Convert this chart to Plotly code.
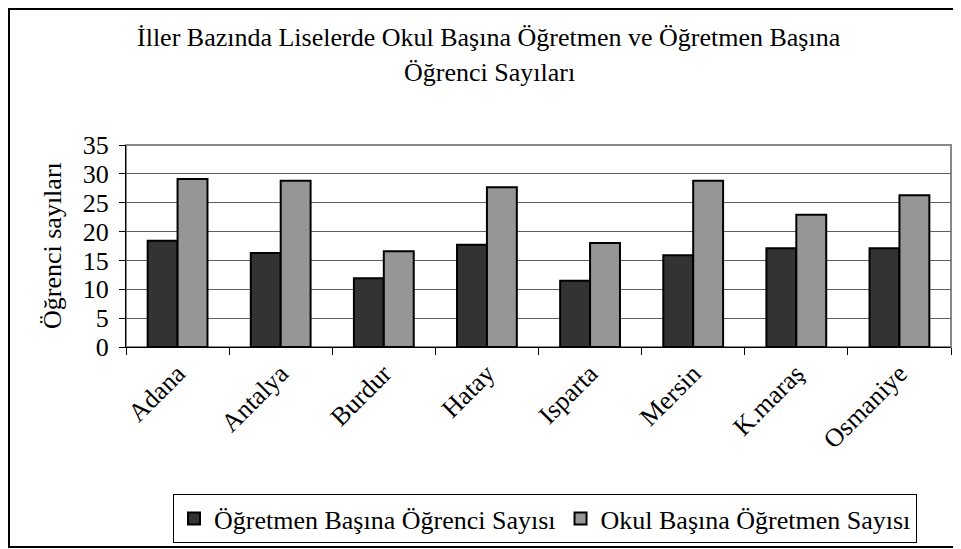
import plotly.graph_objects as go

iller = ["Adana", "Antalya", "Burdur", "Hatay", "Isparta", "Mersin", "K.maraş", "Osmaniye"]
ogretmen_basina_ogrenci = [18.4, 16.3, 11.9, 17.7, 11.5, 15.9, 17.1, 17.1]
okul_basina_ogretmen = [29.1, 28.8, 16.6, 27.7, 18.0, 28.8, 22.9, 26.3]
y_ticks = [0, 5, 10, 15, 20, 25, 30, 35]
baslik_1 = "İller Bazında Liselerde Okul Başına Öğretmen ve Öğretmen Başına"
baslik_2 = "Öğrenci Sayıları"
y_baslik = "Öğrenci sayıları"

# the page body has an 8px margin, so the figure starts at (8, 8) in the window
OFF = 8
WIN_W, WIN_H = 961, 549
W, H = WIN_W - OFF, WIN_H - OFF
# plot area in window pixels
PL, PR, PT, PB = 126, 951, 145, 347
L, R, T, B = PL - OFF, PR - OFF, PT - OFF, PB - OFF


def px(x):
    """window x pixel -> paper coordinate"""
    return (x - PL) / (PR - PL)


def py(y):
    """window y pixel -> paper coordinate"""
    return (PB - y) / (PB - PT)


FONT = "Liberation Serif, Times New Roman, serif"
FS = 26

fig = go.Figure()
fig.add_bar(x=iller, y=ogretmen_basina_ogrenci, name="Öğretmen Başına Öğrenci Sayısı",
            marker=dict(color="#333333", line=dict(color="black", width=2)))
fig.add_bar(x=iller, y=okul_basina_ogretmen, name="Okul Başına Öğretmen Sayısı",
            marker=dict(color="#969696", line=dict(color="black", width=2)))

fig.update_layout(
    width=W, height=H,
    margin=dict(l=L, r=W - R, t=T, b=H - B, autoexpand=False),
    paper_bgcolor="white", plot_bgcolor="white",
    font=dict(family=FONT, size=FS, color="black"),
    barmode="group", bargap=0.42, bargroupgap=0,
    showlegend=True,
    legend=dict(orientation="h", x=px(173), y=py(494), xanchor="left", yanchor="top",
                bordercolor="black", borderwidth=1, font=dict(size=FS),
                itemwidth=30, tracegroupgap=0),
)

fig.update_xaxes(type="category", showline=True, linecolor="black", linewidth=1,
                 ticks="outside", tickson="boundaries", ticklen=7, tickcolor="black",
                 tickangle=-45, tickfont=dict(size=FS), showgrid=False, automargin=False)
fig.update_yaxes(range=[0, 35], tickvals=y_ticks, showline=True, linecolor="black", linewidth=1,
                 ticks="outside", ticklen=6, tickcolor="black", showgrid=True,
                 gridcolor="#606060", gridwidth=1, zeroline=False, tickfont=dict(size=FS),
                 ticklabelstandoff=5, automargin=False)

# plot-area border (gray) and outer chart frame
fig.add_shape(type="rect", xref="paper", yref="paper", x0=0, x1=1, y0=0, y1=1,
              line=dict(color="#888888", width=2), layer="below")
fig.add_shape(type="rect", xref="paper", yref="paper",
              x0=px(OFF + 1), x1=px(958), y0=py(547), y1=py(OFF + 1),
              line=dict(color="black", width=2))

fig.add_annotation(text=baslik_1, xref="paper", yref="paper", x=px(489), y=py(37),
                   showarrow=False, xanchor="center", yanchor="middle", font=dict(size=FS))
fig.add_annotation(text=baslik_2, xref="paper", yref="paper", x=px(489), y=py(73),
                   showarrow=False, xanchor="center", yanchor="middle", font=dict(size=FS))
fig.add_annotation(text=y_baslik, textangle=-90, xref="paper", yref="paper",
                   x=px(52), y=0.5, showarrow=False, font=dict(size=FS),
                   xanchor="center", yanchor="middle")

fig.write_html("out.html")
